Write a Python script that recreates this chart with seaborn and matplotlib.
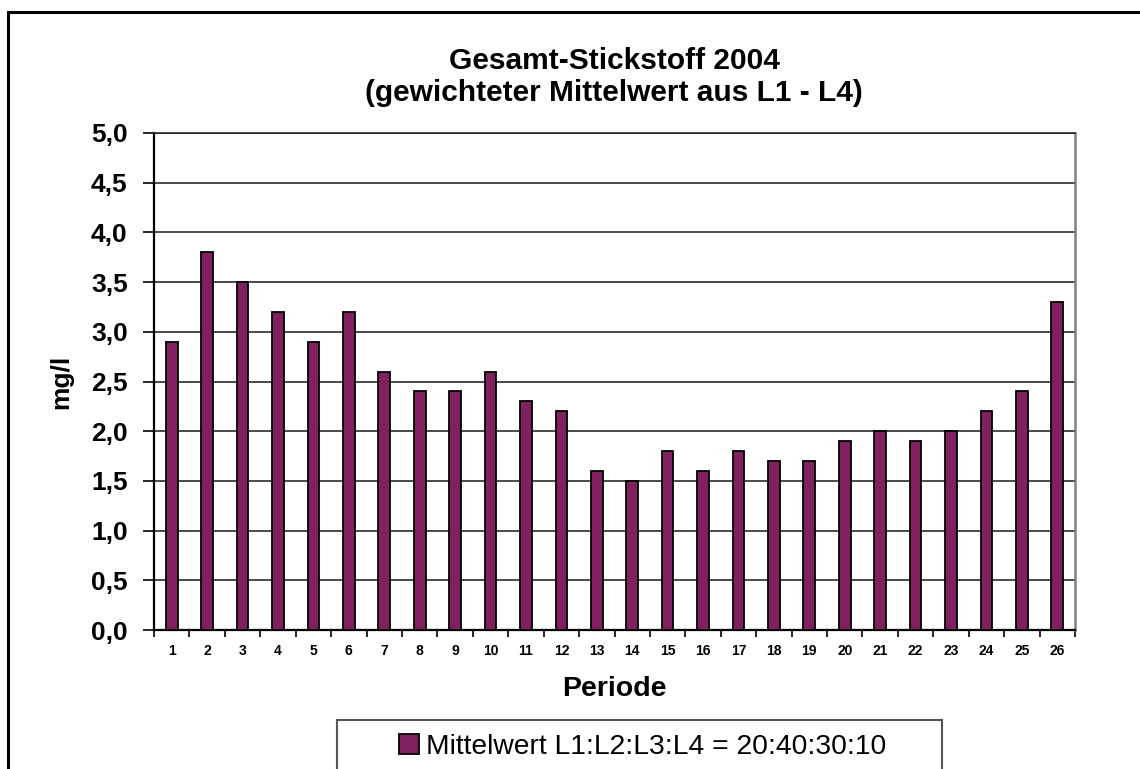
import matplotlib
matplotlib.use("Agg")
import matplotlib.pyplot as plt
import matplotlib.patches as mpatches
import seaborn as sns
import pandas as pd
import numpy as np

periods = [str(i) for i in range(1, 27)]
values = [2.9, 3.8, 3.5, 3.2, 2.9, 3.2, 2.6, 2.4, 2.4, 2.6, 2.3, 2.2, 1.6,
          1.5, 1.8, 1.6, 1.8, 1.7, 1.7, 1.9, 2.0, 1.9, 2.0, 2.2, 2.4, 3.3]
yticks = [0.0, 0.5, 1.0, 1.5, 2.0, 2.5, 3.0, 3.5, 4.0, 4.5, 5.0]
ytick_labels = ["0,0", "0,5", "1,0", "1,5", "2,0", "2,5", "3,0", "3,5", "4,0", "4,5", "5,0"]
series_name = "Mittelwert L1:L2:L3:L4 = 20:40:30:10"
title_lines = ["Gesamt-Stickstoff 2004", "(gewichteter Mittelwert aus L1 - L4)"]
xlabel = "Periode"
ylabel = "mg/l"

sns.set_style("white")
plt.rcParams["font.family"] = ["Liberation Sans", "DejaVu Sans"]
plt.rcParams["text.color"] = "black"
plt.rcParams["axes.labelcolor"] = "black"
plt.rcParams["xtick.color"] = "black"
plt.rcParams["ytick.color"] = "black"

W, H = 1140, 769
fig = plt.figure(figsize=(W / 100, H / 100), dpi=100)
ax = fig.add_axes([154 / W, 1 - 630 / H, (1075 - 154) / W, (630 - 133) / H])

df = pd.DataFrame({"Periode": periods, "Wert": values})
bar_color = "#80205F"
sns.barplot(data=df, x="Periode", y="Wert", color=bar_color, width=0.33,
            edgecolor="black", linewidth=1.3, saturation=1, ax=ax, zorder=3)

ax.set_ylim(0, 5)
ax.set_xlim(-0.5, len(periods) - 0.5)
ax.set_yticks(yticks)
ax.set_yticklabels(ytick_labels, fontsize=19, fontweight="bold", color="black")
ax.tick_params(axis="y", direction="out", length=8, width=1.2, color="black", pad=11, left=True)

ax.set_xticks(range(len(periods)))
ax.set_xticklabels(periods, fontsize=10, fontweight="bold", color="black")
ax.tick_params(axis="x", which="major", length=0, pad=10)
ax.set_xticks(np.arange(-0.5, len(periods), 1.0), minor=True)
ax.tick_params(axis="x", which="minor", direction="out", length=5, width=1.2, color="black", bottom=True)

ax.yaxis.grid(True, color="#1a1a1a", linewidth=1.1, zorder=0)
ax.set_axisbelow(True)

for side in ["left", "bottom"]:
    ax.spines[side].set_color("black")
    ax.spines[side].set_linewidth(1.6)
ax.spines["top"].set_color("#1a1a1a")
ax.spines["top"].set_linewidth(1.1)
ax.spines["right"].set_color("#808080")
ax.spines["right"].set_linewidth(1.8)

ax.set_xlabel(xlabel, fontsize=20.5, fontweight="bold", labelpad=13, color="black")
ax.set_ylabel(ylabel, fontsize=19, fontweight="bold", labelpad=13, color="black")

fig.text(614 / W, 1 - 61 / H, title_lines[0], ha="center", va="center",
         fontsize=21.5, fontweight="bold", color="black")
fig.text(614 / W, 1 - 93 / H, title_lines[1], ha="center", va="center",
         fontsize=21.5, fontweight="bold", color="black")

# outer chart border (only top and left visible)
fig.patches.append(mpatches.Rectangle((8 / W, -0.1), 1.2, 1 - 12 / H + 0.1,
                                      transform=fig.transFigure, fill=False,
                                      edgecolor="black", linewidth=2.2, clip_on=False))
# legend box
fig.patches.append(mpatches.Rectangle((337 / W, -0.1), (942 - 337) / W, 1 - 720 / H + 0.1,
                                      transform=fig.transFigure, fill=False,
                                      edgecolor="#555555", linewidth=1.5, clip_on=False))
handle = mpatches.Patch(facecolor=bar_color, edgecolor="black", linewidth=1.3, label=series_name)
fig.legend(handles=[handle], loc="center left", bbox_to_anchor=(399 / W, 1 - 747 / H),
           frameon=False, fontsize=20.3, handlelength=0.7, handleheight=0.7,
           handletextpad=0.25, borderpad=0, borderaxespad=0, labelcolor="black")

fig.savefig("out.png", dpi=100)
